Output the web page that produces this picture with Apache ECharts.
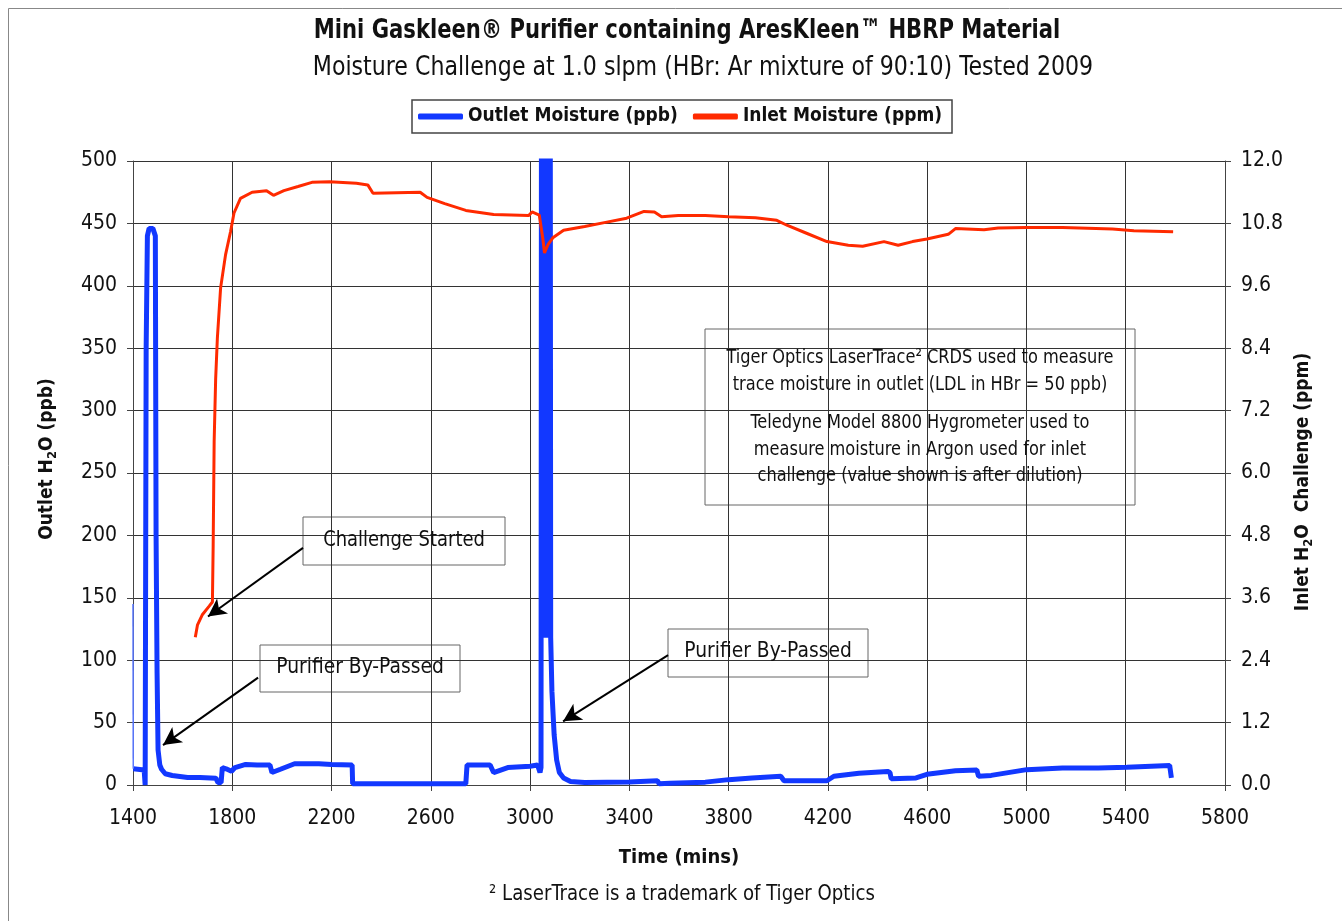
<!DOCTYPE html>
<html>
<head>
<meta charset="utf-8">
<script src="https://cdn.jsdelivr.net/npm/echarts@6/dist/echarts.min.js"></script>
<style>
html,body{margin:0;padding:0;background:#fff;}
#chart{width:1342px;height:921px;}
</style>
</head>
<body>
<div id="chart"></div>
<script>
// ---- Data ----
var xTicks = [1400, 1800, 2200, 2600, 3000, 3400, 3800, 4200, 4600, 5000, 5400, 5800];
var leftTicks = [0, 50, 100, 150, 200, 250, 300, 350, 400, 450, 500];
var rightTicks = [0.0, 1.2, 2.4, 3.6, 4.8, 6.0, 7.2, 8.4, 9.6, 10.8, 12.0];

// thin trace at the very start of the outlet record
var startTime = [1400, 1401];
var startPpb  = [145, 13];

var outletTime = [1401, 1445, 1449, 1452, 1453, 1458, 1465, 1480, 1490, 1493, 1497, 1501, 1508, 1515, 1530, 1558, 1620, 1670, 1734, 1742, 1748, 1755, 1760, 1775, 1797, 1811, 1854, 1900, 1952, 1960, 1966, 1994, 2051, 2149, 2200, 2283, 2285, 2400, 2600, 2741, 2746, 2839, 2853, 2910, 3000, 3030, 3040, 3044, 3046, 3052, 3054, 3056, 3062, 3064, 3066, 3076, 3079, 3081, 3083, 3088, 3097, 3107, 3118, 3135, 3163, 3220, 3400, 3513, 3520, 3563, 3706, 3800, 3894, 3994, 4010, 4023, 4196, 4224, 4325, 4440, 4450, 4455, 4555, 4599, 4714, 4800, 4807, 4858, 5001, 5145, 5289, 5404, 5577, 5584];
var outletPpb  = [13, 12, 0, 0, 350, 440, 446, 446, 440, 200, 90, 28, 16, 12.6, 9, 7.6, 6, 6, 5.5, 2, 1, 2, 14, 13, 11, 14, 16.5, 16, 16, 10, 9.5, 12.6, 17, 17, 16.5, 16, 1, 1, 1, 1, 16, 16, 10, 14, 15, 16, 10, 14, 620, 620, 118, 620, 620, 118, 620, 620, 405, 620, 118, 75, 40, 20, 10, 5.6, 2.8, 2, 2.5, 3.4, 1, 1.4, 2.3, 4.3, 5.7, 6.9, 7, 3.4, 3.4, 7, 9.4, 10.9, 10, 5.1, 5.7, 8.6, 11.4, 12, 7, 7.7, 12.3, 13.7, 13.7, 14.3, 15.7, 5.7];

var inletTime = [1651, 1660, 1680, 1707, 1720, 1723, 1727, 1733, 1740, 1753, 1773, 1793, 1807, 1833, 1880, 1938, 1966, 2008, 2065, 2121, 2192, 2300, 2346, 2367, 2557, 2585, 2656, 2741, 2853, 2994, 3008, 3037, 3051, 3058, 3072, 3093, 3135, 3220, 3304, 3389, 3459, 3501, 3530, 3597, 3706, 3800, 3908, 3994, 4037, 4109, 4196, 4282, 4340, 4426, 4483, 4541, 4599, 4685, 4714, 4829, 4886, 5001, 5145, 5347, 5433, 5591];
var inletPpm  = [2.84, 3.08, 3.28, 3.44, 3.52, 4.6, 6.6, 7.8, 8.6, 9.56, 10.2, 10.64, 11.0, 11.28, 11.4, 11.43, 11.34, 11.43, 11.51, 11.59, 11.6, 11.57, 11.54, 11.38, 11.4, 11.3, 11.18, 11.05, 10.97, 10.95, 11.02, 10.96, 10.52, 10.23, 10.39, 10.53, 10.67, 10.74, 10.82, 10.9, 11.03, 11.02, 10.93, 10.95, 10.95, 10.93, 10.91, 10.86, 10.76, 10.62, 10.45, 10.38, 10.36, 10.45, 10.38, 10.45, 10.5, 10.59, 10.7, 10.68, 10.71, 10.72, 10.72, 10.69, 10.66, 10.64];

var seriesNames = ['Outlet Moisture (ppb)', 'Inlet Moisture (ppm)'];

// annotation arrows (data coords: [time, ppb]) from label box to target
var arrowFrom = [[2085, 190], [1904, 86], [3556, 104]];
var arrowTo   = [[1702, 135], [1521, 32], [3133, 51]];

// ---- Build ----
var FONT = "'Liberation Sans Narrow', 'Arial Narrow', 'DejaVu Sans Condensed', sans-serif";
function pairs(xs, ys){ var o=[]; for (var i=0;i<xs.length;i++) o.push([xs[i], ys[i]]); return o; }

var arrowData = [];
for (var i=0;i<arrowFrom.length;i++) arrowData.push([{coord: arrowFrom[i]}, {coord: arrowTo[i]}]);

function txt(text, x, y, font, sx) {
  return {type:'text', z:100, x:x, y:y, scaleX:sx, style:{text:text, x:0, y:0, align:'center', verticalAlign:'middle', fill:'#111', font:font}};
}
function box(x, y, w, h, lines, fontSize, lineYs, sx) {
  var children = [{type:'rect', shape:{x:x, y:y, width:w, height:h}, style:{fill:'#fff', stroke:'#666', lineWidth:1}}];
  for (var i=0;i<lines.length;i++) children.push(txt(lines[i], x+w/2, lineYs[i], fontSize + 'px ' + FONT, sx));
  return {type:'group', z:100, children:children};
}

var chart = echarts.init(document.getElementById('chart'));
var option = {
  backgroundColor: '#fff',
  animation: false,
  textStyle: {fontFamily: FONT},
  grid: {left: 133, right: 117, top: 161, bottom: 136, containLabel: false},
  legend: {
    data: seriesNames,
    left: 412, top: 100,
    borderColor: '#444', borderWidth: 1.5,
    padding: [7, 10, 7, 6],
    itemWidth: 45, itemHeight: 6, itemGap: 15,
    icon: 'roundRect',
    textStyle: {fontFamily: FONT, fontWeight: 'bold', fontSize: 19, color: '#111'}
  },
  xAxis: {
    type: 'value', min: xTicks[0], max: xTicks[xTicks.length-1], interval: xTicks[1]-xTicks[0],
    name: 'Time (mins)', nameLocation: 'middle', nameGap: 63,
    nameTextStyle: {fontFamily: FONT, fontWeight: 'bold', fontSize: 20, color: '#111'},
    axisLine: {lineStyle: {color: '#444', width: 1}},
    axisTick: {show: true, inside: false, length: 6, lineStyle: {color: '#444'}},
    axisLabel: {fontFamily: FONT, fontSize: 21, color: '#111', margin: 23, formatter: function(v){ return String(v); }},
    splitLine: {show: true, lineStyle: {color: '#333', width: 1}}
  },
  yAxis: [{
    type: 'value', min: leftTicks[0], max: leftTicks[leftTicks.length-1], interval: leftTicks[1]-leftTicks[0],
    position: 'left',
    name: '{a|Outlet H}{s|2}{a|O (ppb)}', nameLocation: 'middle', nameGap: 74,
    nameTextStyle: {padding: [0, 0, 0, 28], rich: {
      a: {fontFamily: FONT, fontWeight: 'bold', fontSize: 19, color: '#111'},
      s: {fontFamily: FONT, fontWeight: 'bold', fontSize: 13, color: '#111', verticalAlign: 'bottom', padding: [10,0,0,0]}
    }},
    axisLine: {show: true, lineStyle: {color: '#444', width: 1}},
    axisTick: {show: true, inside: false, length: 6, lineStyle: {color: '#444'}},
    axisLabel: {fontFamily: FONT, fontSize: 21, color: '#111', margin: 16, formatter: function(v){ return String(v); }},
    splitLine: {show: true, lineStyle: {color: '#333', width: 1}}
  }, {
    type: 'value', min: rightTicks[0], max: rightTicks[rightTicks.length-1], interval: rightTicks[1]-rightTicks[0],
    position: 'right',
    name: '{a|Inlet H}{s|2}{a|O  Challenge (ppm)}', nameLocation: 'middle', nameGap: 64,
    nameTextStyle: {padding: [0, 18, 0, 0], rich: {
      a: {fontFamily: FONT, fontWeight: 'bold', fontSize: 19, color: '#111'},
      s: {fontFamily: FONT, fontWeight: 'bold', fontSize: 13, color: '#111', verticalAlign: 'bottom', padding: [10,0,0,0]}
    }},
    axisLine: {show: true, lineStyle: {color: '#444', width: 1}},
    axisTick: {show: true, inside: false, length: 6, lineStyle: {color: '#444'}},
    axisLabel: {fontFamily: FONT, fontSize: 21, color: '#111', margin: 16, formatter: function(v){ return v.toFixed(1); }},
    splitLine: {show: false}
  }],
  series: [{
    name: seriesNames[0], type: 'line', yAxisIndex: 0,
    data: pairs(outletTime, outletPpb),
    showSymbol: false, symbol: 'none', clip: true,
    color: '#1238ff',
    lineStyle: {color: '#1238ff', width: 5},
    markLine: {
      silent: true, symbol: ['none', 'arrow'], symbolSize: [14, 18],
      label: {show: false},
      lineStyle: {color: '#000', width: 2, type: 'solid'},
      emphasis: {disabled: true},
      data: arrowData
    },
    z: 3
  }, {
    name: 'start', type: 'line', yAxisIndex: 0,
    data: pairs(startTime, startPpb),
    showSymbol: false, symbol: 'none', clip: true,
    lineStyle: {color: '#5a78ff', width: 1.5},
    z: 3
  }, {
    name: seriesNames[1], type: 'line', yAxisIndex: 1,
    data: pairs(inletTime, inletPpm),
    showSymbol: false, symbol: 'none', clip: true,
    color: '#ff2a00',
    lineStyle: {color: '#ff2a00', width: 3},
    z: 4
  }],
  graphic: [
    {type:'rect', z:-1, shape:{x:8.5, y:8.5, width:1400, height:1000}, style:{fill:'none', stroke:'#888', lineWidth:1}},
    txt('Mini Gaskleen® Purifier containing AresKleen™ HBRP Material', 687, 31, 'bold 27px ' + FONT, 0.87),
    txt('Moisture Challenge at 1.0 slpm (HBr: Ar mixture of 90:10) Tested 2009', 703, 68, '26px ' + FONT, 0.945),
    txt('² LaserTrace is a trademark of Tiger Optics', 682, 895, '21px ' + FONT, 0.96),
    box(303, 517, 202, 48, ['Challenge Started'], 21, [541], 0.95),
    box(260, 645, 200, 47, ['Purifier By-Passed'], 21, [668], 0.99),
    box(668, 629, 200, 48, ['Purifier By-Passed'], 21, [652], 0.99),
    box(705, 329, 430, 176, [
      'Tiger Optics LaserTrace² CRDS used to measure',
      'trace moisture in outlet (LDL in HBr = 50 ppb)',
      'Teledyne Model 8800 Hygrometer used to',
      'measure moisture in Argon used for inlet',
      'challenge (value shown is after dilution)'
    ], 20, [358, 385, 423, 450, 476], 0.9)
  ]
};
chart.setOption(option);
</script>
</body>
</html>
